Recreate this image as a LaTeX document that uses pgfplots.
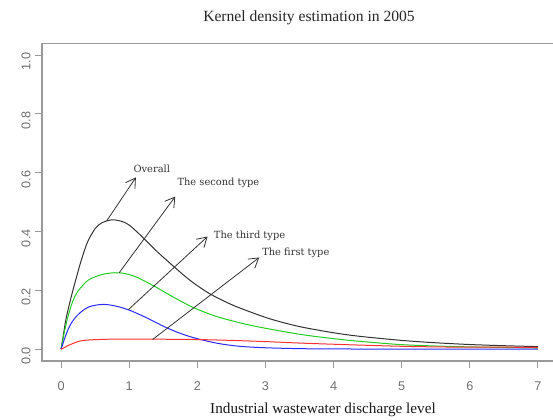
\documentclass[border=0pt]{standalone}
\usepackage{fontspec}
\setmainfont{Liberation Serif}
\newfontfamily\annfont{DejaVu Serif}
\newfontfamily\tickfont{Liberation Sans}
\usepackage{pgfplots}
\pgfplotsset{compat=1.18}
\usetikzlibrary{arrows.meta}
\definecolor{axgray}{HTML}{9A9A9A}
\definecolor{lblgray}{HTML}{6E6E6E}
\definecolor{cblack}{HTML}{333333}
\definecolor{cgreen}{HTML}{22CC22}
\definecolor{cblue}{HTML}{2A2AFF}
\definecolor{cred}{HTML}{FF3030}
\begin{document}
\begin{tikzpicture}
\useasboundingbox (-31.5pt,-43.5pt) rectangle (383.25pt,270.75pt);
\clip (-31.5pt,-43.5pt) rectangle (383.25pt,270.75pt);
\begin{axis}[
  at={(0,0)}, anchor=south west,
  scale only axis, width=386.25pt, height=238.3pt,
  xmin=-0.28, xmax=7.28, ymin=-0.04, ymax=1.04,
  axis line style={color=axgray, line width=0.8pt},
  xtick={0,1,2,3,4,5,6,7},
  ytick={0,0.2,0.4,0.6,0.8,1.0},
  yticklabels={0.0,0.2,0.4,0.6,0.8,1.0},
  tick align=outside, tick pos=left,
  major tick length=5pt,
  tick style={color=axgray, line width=0.8pt},
  /pgf/number format/assume math mode=true,
  ticklabel style={font=\tickfont\fontsize{9.5}{11}\selectfont, text=lblgray},
  xticklabel style={yshift=-7pt},
  yticklabel style={rotate=90, anchor=south, xshift=-5pt},
  clip=false,
]
\addplot[cblack, line width=0.75pt, smooth, tension=0.5] coordinates {
(0,0) (0.035,0.05) (0.07,0.1) (0.14,0.17) (0.22,0.24) (0.3,0.305) (0.39,0.365) (0.5,0.41) (0.6,0.43) (0.75,0.44) (0.9,0.434) (1.0,0.422) (1.1,0.402) (1.2,0.38) (1.4,0.334) (1.66,0.28) (1.9,0.233) (2.18,0.189) (2.5,0.152) (2.81,0.124) (3.1,0.101) (3.5,0.077) (4.0,0.056) (4.38,0.044) (5.0,0.03) (5.5,0.022) (6.0,0.016) (6.5,0.012) (7.0,0.009)};
\addplot[cgreen, line width=0.75pt, smooth, tension=0.5] coordinates {
(0,0) (0.05,0.06) (0.1,0.11) (0.17,0.162) (0.25,0.198) (0.4,0.235) (0.6,0.254) (0.78,0.26) (0.92,0.258) (1.1,0.246) (1.37,0.214) (1.65,0.177) (1.94,0.142) (2.3,0.11) (2.81,0.08) (3.5,0.051) (4.0,0.036) (4.38,0.027) (4.97,0.016) (5.5,0.011) (6.0,0.008) (6.5,0.006) (7.0,0.004)};
\addplot[cblue, line width=0.75pt, smooth, tension=0.5] coordinates {
(0,0) (0.05,0.035) (0.12,0.076) (0.2,0.105) (0.3,0.128) (0.42,0.145) (0.58,0.152) (0.7,0.151) (0.85,0.144) (1.0,0.133) (1.2,0.113) (1.4,0.09) (1.54,0.074) (1.75,0.054) (1.98,0.037) (2.3,0.02) (2.62,0.01) (3.0,0.005) (3.5,0.002) (4.0,0.001) (5.0,0.0005) (7.0,0.0)};
\addplot[cred, line width=0.75pt, smooth, tension=0.5] coordinates {
(0,0) (0.05,0.006) (0.1,0.012) (0.2,0.022) (0.3,0.029) (0.45,0.032) (0.7,0.034) (1.0,0.034) (1.5,0.034) (2.0,0.033) (2.5,0.03) (3.0,0.026) (3.5,0.021) (4.0,0.017) (4.4,0.014) (5.0,0.01) (5.5,0.008) (6.0,0.007) (6.5,0.007) (7.0,0.006)};
\draw[cblack, line width=0.6pt, -{Straight Barb[length=7pt,width=8.5pt]}] (axis cs:0.669,0.436) -- (axis cs:1.098,0.584);
\draw[cblack, line width=0.6pt, -{Straight Barb[length=7pt,width=8.5pt]}] (axis cs:0.853,0.26) -- (axis cs:1.676,0.519);
\draw[cblack, line width=0.6pt, -{Straight Barb[length=7pt,width=8.5pt]}] (axis cs:0.99,0.135) -- (axis cs:2.15,0.383);
\draw[cblack, line width=0.6pt, -{Straight Barb[length=7pt,width=8.5pt]}] (axis cs:1.343,0.033) -- (axis cs:2.91,0.312);
\node[anchor=west, inner sep=0pt, font=\annfont\fontsize{7.4}{9}\selectfont, text=cblack] at (axis cs:1.06,0.613) {Overall};
\node[anchor=west, inner sep=0pt, font=\annfont\fontsize{7.4}{9}\selectfont, text=cblack] at (axis cs:1.706,0.566) {The second type};
\node[anchor=west, inner sep=0pt, font=\annfont\fontsize{7.4}{9}\selectfont, text=cblack] at (axis cs:2.24,0.385) {The third type};
\node[anchor=west, inner sep=0pt, font=\annfont\fontsize{7.4}{9}\selectfont, text=cblack] at (axis cs:2.95,0.326) {The first type};
\end{axis}
\node[font=\fontsize{11.7}{13}\selectfont, text=black!85] at (200.25pt,257.25pt) {Kernel density estimation in 2005};
\node[font=\fontsize{11.4}{13}\selectfont, text=black!90] at (210.75pt,-36.75pt) {Industrial wastewater discharge level};
\end{tikzpicture}
\end{document}
